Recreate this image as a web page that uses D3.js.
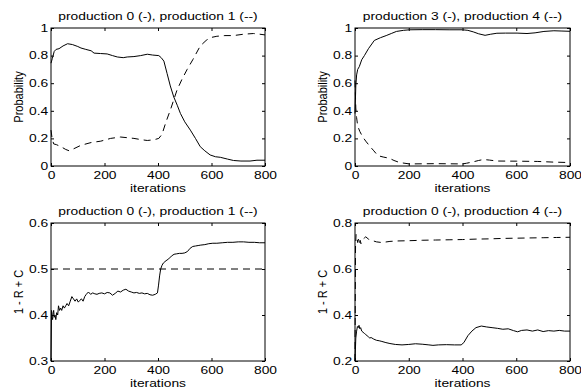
<!DOCTYPE html>
<html>
<head>
<meta charset="utf-8">
<script src="https://cdn.jsdelivr.net/npm/d3@7"></script>
<style>
  body { margin: 0; background: #fff; }
  svg { display: block; }
  text { font-family: "Liberation Sans", Arial, Helvetica, sans-serif; fill: #000; }
  .line { fill: none; stroke: #000; stroke-width: 1; }
  .dashed { stroke-dasharray: 7,5; }
</style>
</head>
<body>
<div id="chart"></div>
<script>
// x ticks shared by all panels
var iterTicks = [0, 200, 400, 600, 800];

// top-left: production 0 (solid) vs production 1 (dashed), probability
var tlProd0 = [[0,0.745],[5,0.78],[12,0.83],[19,0.845],[30,0.85],[45,0.87],[62,0.886],[80,0.88],[100,0.866],[112,0.855],[130,0.845],[150,0.835],[161,0.818],[185,0.815],[210,0.812],[230,0.8],[248,0.79],[270,0.785],[285,0.79],[310,0.793],[335,0.8],[360,0.81],[380,0.804],[403,0.8],[412,0.785],[422,0.76],[434,0.67],[446,0.58],[459,0.5],[472,0.44],[484,0.38],[500,0.32],[521,0.26],[540,0.2],[558,0.14],[575,0.11],[595,0.08],[615,0.067],[633,0.063],[660,0.05],[682,0.04],[710,0.036],[744,0.036],[770,0.042],[800,0.042]];
var tlProd1 = [[0,0.26],[4,0.2],[10,0.16],[20,0.155],[37,0.14],[55,0.12],[68,0.11],[85,0.125],[112,0.15],[150,0.17],[186,0.18],[223,0.2],[260,0.21],[285,0.205],[310,0.2],[340,0.19],[360,0.185],[385,0.19],[403,0.2],[415,0.23],[430,0.32],[447,0.41],[459,0.48],[471,0.55],[490,0.63],[509,0.7],[530,0.77],[558,0.87],[580,0.91],[595,0.93],[620,0.94],[650,0.945],[682,0.945],[720,0.955],[757,0.96],[780,0.955],[800,0.95]];

// top-right: production 3 (solid) vs production 4 (dashed)
var trProd3 = [[0,0.38],[3,0.58],[6,0.66],[10,0.7],[16,0.72],[25,0.77],[35,0.8],[50,0.85],[72,0.91],[95,0.93],[116,0.945],[135,0.96],[154,0.975],[180,0.983],[203,0.987],[250,0.988],[300,0.988],[350,0.987],[400,0.987],[420,0.983],[440,0.972],[460,0.958],[484,0.947],[505,0.955],[528,0.962],[560,0.963],[603,0.963],[640,0.96],[670,0.965],[703,0.975],[740,0.98],[770,0.978],[800,0.976]];
var trProd4 = [[0,0.62],[3,0.42],[6,0.35],[10,0.29],[18,0.25],[29,0.21],[40,0.18],[54,0.146],[70,0.11],[85,0.075],[105,0.065],[128,0.056],[145,0.04],[166,0.025],[203,0.015],[300,0.017],[400,0.015],[415,0.02],[440,0.03],[460,0.04],[478,0.047],[500,0.043],[528,0.036],[600,0.035],[680,0.033],[740,0.028],[800,0.025]];

// bottom-left: 1 - R + C, production 0 (solid) vs production 1 (dashed)
var blProd0 = [[0,0.3],[2,0.41],[4,0.395],[6,0.39],[8,0.405],[10,0.41],[12,0.395],[15,0.4],[18,0.39],[21,0.405],[25,0.4],[28,0.42],[32,0.41],[36,0.415],[40,0.41],[45,0.42],[50,0.415],[55,0.42],[60,0.425],[66,0.42],[72,0.43],[78,0.44],[84,0.435],[90,0.43],[96,0.435],[102,0.428],[108,0.432],[114,0.435],[120,0.43],[126,0.44],[132,0.445],[140,0.45],[148,0.445],[156,0.448],[164,0.446],[172,0.445],[180,0.447],[190,0.448],[200,0.446],[210,0.449],[220,0.448],[230,0.443],[240,0.447],[250,0.452],[260,0.45],[270,0.454],[280,0.456],[290,0.452],[300,0.45],[310,0.448],[320,0.449],[330,0.447],[340,0.448],[350,0.446],[360,0.447],[370,0.444],[380,0.443],[390,0.445],[398,0.448],[402,0.465],[406,0.485],[410,0.5],[415,0.508],[420,0.513],[430,0.518],[440,0.522],[450,0.528],[460,0.532],[470,0.533],[480,0.534],[490,0.534],[500,0.535],[510,0.538],[520,0.545],[530,0.549],[540,0.55],[550,0.551],[560,0.552],[575,0.553],[590,0.555],[605,0.556],[620,0.556],[640,0.557],[660,0.558],[680,0.558],[700,0.559],[720,0.559],[740,0.558],[760,0.558],[780,0.557],[800,0.557]];
var blProd1 = [[0,0.5],[800,0.5]];

// bottom-right: production 0 (solid) vs production 4 (dashed)
var brProd0 = [[0,0.2],[3,0.3],[6,0.33],[9,0.35],[12,0.345],[15,0.355],[18,0.34],[21,0.345],[25,0.33],[30,0.325],[35,0.32],[40,0.315],[45,0.31],[50,0.305],[55,0.3],[60,0.302],[70,0.295],[80,0.29],[90,0.288],[100,0.285],[115,0.28],[130,0.276],[150,0.272],[175,0.27],[200,0.272],[225,0.275],[250,0.273],[275,0.27],[290,0.268],[310,0.27],[340,0.271],[370,0.27],[395,0.27],[405,0.28],[420,0.31],[435,0.33],[450,0.345],[470,0.352],[490,0.348],[510,0.345],[530,0.342],[550,0.338],[570,0.34],[590,0.332],[605,0.327],[620,0.333],[640,0.335],[660,0.33],[680,0.335],[700,0.328],[720,0.332],[740,0.33],[760,0.333],[780,0.33],[800,0.33]];
var brProd4 = [[0,0.2],[2,0.7],[4,0.75],[7,0.74],[10,0.715],[13,0.73],[16,0.71],[19,0.725],[22,0.71],[26,0.72],[30,0.73],[35,0.735],[40,0.74],[50,0.73],[60,0.725],[80,0.718],[100,0.715],[130,0.72],[160,0.722],[200,0.723],[250,0.725],[300,0.726],[350,0.727],[400,0.728],[450,0.73],[500,0.731],[550,0.733],[600,0.734],[650,0.735],[700,0.736],[750,0.737],[800,0.738]];

var probTicks = [0, 0.2, 0.4, 0.6, 0.8, 1];
var blTicks = [0.3, 0.4, 0.5, 0.6];
var brTicks = [0.2, 0.4, 0.6, 0.8];

var W = 581, H = 389;
var stretch = 1.38; // text in the original is widened

var svg = d3.select('#chart').append('svg')
    .attr('width', W)
    .attr('height', H);

function drawPanel(opt) {
    var x = d3.scaleLinear().domain([0, 800]).range([opt.left, opt.right]);
    var y = d3.scaleLinear().domain(opt.yDomain).range([opt.bottom, opt.top]);

    var g = svg.append('g');

    // lines
    var line = d3.line()
        .x(function (d) { return x(d[0]); })
        .y(function (d) { return y(d[1]); });

    g.append('path').datum(opt.solid).attr('class', 'line').attr('d', line);
    g.append('path').datum(opt.dashed).attr('class', 'line dashed').attr('d', line);

    // axes, ticks inward
    var xAxis = g.append('g')
        .attr('transform', 'translate(0,' + opt.bottom + ')')
        .call(d3.axisBottom(x).tickValues(iterTicks).tickSizeInner(-3).tickSizeOuter(0).tickPadding(6));
    var yAxis = g.append('g')
        .attr('transform', 'translate(' + opt.left + ',0)')
        .call(d3.axisLeft(y).tickValues(opt.yTicks).tickSizeInner(-3).tickSizeOuter(0).tickPadding(2)
            .tickFormat(d3.format('~g')));
    // mirrored ticks on top / right
    g.append('g')
        .attr('transform', 'translate(0,' + opt.top + ')')
        .call(d3.axisTop(x).tickValues(iterTicks).tickSizeInner(-3).tickSizeOuter(0).tickFormat(''));
    g.append('g')
        .attr('transform', 'translate(' + opt.right + ',0)')
        .call(d3.axisRight(y).tickValues(opt.yTicks).tickSizeInner(-3).tickSizeOuter(0).tickFormat(''));

    g.selectAll('.domain').remove();
    g.selectAll('.tick line').attr('stroke', '#000');
    g.selectAll('.tick text')
        .attr('font-size', 10)
        .attr('font-family', '"Liberation Sans", Arial, Helvetica, sans-serif')
        .attr('fill', '#000')
        .attr('transform', 'scale(' + stretch + ',1)');

    // box
    g.append('rect')
        .attr('x', opt.left)
        .attr('y', opt.top)
        .attr('width', opt.right - opt.left)
        .attr('height', opt.bottom - opt.top)
        .attr('fill', 'none')
        .attr('stroke', '#000')
        .attr('stroke-width', 1);

    var cx = (opt.left + opt.right) / 2;

    // title
    g.append('text')
        .attr('transform', 'translate(' + cx + ',' + (opt.top - 8) + ') scale(' + stretch + ',1)')
        .attr('text-anchor', 'middle')
        .attr('font-size', 10)
        .text(opt.title);

    // x label
    g.append('text')
        .attr('transform', 'translate(' + cx + ',' + (opt.bottom + 26) + ') scale(' + stretch + ',1)')
        .attr('text-anchor', 'middle')
        .attr('font-size', 10)
        .text('iterations');

    // y label
    g.append('text')
        .attr('transform', 'translate(' + opt.yLabelX + ',' + ((opt.top + opt.bottom) / 2) + ') rotate(-90) scale(1,1.2)')
        .attr('text-anchor', 'middle')
        .attr('font-size', 11)
        .text(opt.yLabel);
}

drawPanel({ left: 51, right: 265, top: 28, bottom: 166, yDomain: [0, 1], yTicks: probTicks,
    solid: tlProd0, dashed: tlProd1, title: 'production 0 (-), production 1 (--)',
    yLabel: 'Probability', yLabelX: 23 });
drawPanel({ left: 355, right: 570, top: 28, bottom: 166, yDomain: [0, 1], yTicks: probTicks,
    solid: trProd3, dashed: trProd4, title: 'production 3 (-), production 4 (--)',
    yLabel: 'Probability', yLabelX: 327 });
drawPanel({ left: 51, right: 265, top: 223, bottom: 361, yDomain: [0.3, 0.6], yTicks: blTicks,
    solid: blProd0, dashed: blProd1, title: 'production 0 (-), production 1 (--)',
    yLabel: '1 - R + C', yLabelX: 23 });
drawPanel({ left: 355, right: 570, top: 223, bottom: 361, yDomain: [0.2, 0.8], yTicks: brTicks,
    solid: brProd0, dashed: brProd4, title: 'production 0 (-), production 4 (--)',
    yLabel: '1 - R + C', yLabelX: 327 });
</script>
</body>
</html>
